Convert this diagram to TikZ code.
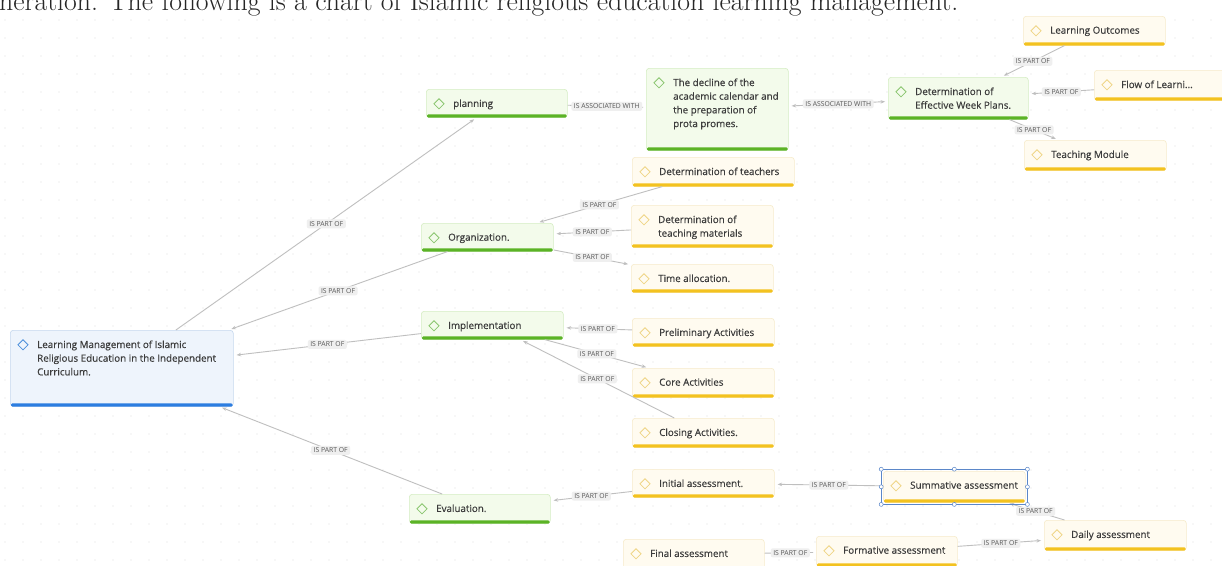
\documentclass[tikz,border=0pt]{standalone}
\usepackage{fontspec}
\setsansfont{Open Sans}
\newfontfamily\cardfont{Open Sans}[FakeBold=0.5]
\usepackage{tikz}
\usetikzlibrary{arrows.meta}
\usetikzlibrary{calc}
\usetikzlibrary{shapes.geometric,fit}

\definecolor{greenfill}{HTML}{F3FBEB}
\definecolor{greenline}{HTML}{D5EDC3}
\definecolor{greenbar}{HTML}{5BB326}
\definecolor{greenicon}{HTML}{8AC56F}
\definecolor{yellowfill}{HTML}{FFFBF0}
\definecolor{yellowline}{HTML}{F6EBCB}
\definecolor{yellowbar}{HTML}{F3C21F}
\definecolor{yellowicon}{HTML}{EFD585}
\definecolor{bluefill}{HTML}{EEF4FC}
\definecolor{blueline}{HTML}{C6D8EE}
\definecolor{bluebar}{HTML}{2C7DE0}
\definecolor{blueicon}{HTML}{4C8FDA}
\definecolor{inktext}{HTML}{3C3C3C}
\definecolor{linkgray}{HTML}{BFBFBF}
\definecolor{tagfill}{HTML}{EFEFEF}
\definecolor{tagtext}{HTML}{555555}
\definecolor{selblue}{HTML}{5B87C9}
\definecolor{griddot}{HTML}{E0E0E0}

\tikzset{
  card/.style={draw=#1line, fill=#1fill, rounded corners=3pt, line width=0.6pt,
    anchor=north west, inner sep=0pt},
  cardbar/.style={fill=#1bar, rounded corners=1.2pt},
  cardicon/.style={diamond, aspect=1, draw=#1icon, line width=0.8pt,
    minimum size=10.5pt, inner sep=0pt},
  cardtext/.style={anchor=north west, inner sep=0pt, align=left,
    font=\cardfont\fontsize{9.8}{13.7}\selectfont, text=inktext},
  link/.style={draw=linkgray, line width=0.9pt, shorten >=3pt},
  tag/.style={fill=tagfill, rounded corners=2pt, inner xsep=2.5pt, inner ysep=2pt,
    font=\sffamily\fontsize{6.8}{7}\selectfont, text=tagtext},
  selbox/.style={draw=selblue, line width=0.6pt, inner sep=1.5pt},
  selhandle/.style={draw=selblue, fill=white, line width=0.5pt}
}

\begin{document}
\begin{tikzpicture}[x=1pt,y=-1pt,>={Stealth[length=4.5pt,width=3.5pt]}]

  % Page and dotted canvas
  \useasboundingbox (0,0) rectangle (1222,565);
  \fill[white] (0,0) rectangle (1222,565);
  \foreach \gx in {5,23,...,1222}
    \foreach \gy in {20,38,...,565}
      \fill[griddot] (\gx,\gy) circle (0.7);

  % Line of the page above the chart, cut by the top edge
  \node[anchor=base west, inner sep=0pt, font=\fontsize{27.8}{28}\selectfont, text=black!85]
    (caption) at (-1,10) {neration. The following is a chart of Islamic religious education learning management.};

  % Cards: name/x/y/width/height/kind/text
  \foreach \nm/\x/\y/\w/\h/\kind/\txt in {
    root/10/330/223/76/blue/{Learning Management of Islamic\\Religious Education in the Independent\\Curriculum.},
    plan/426/89/141/28/green/{planning},
    decline/646/68/142/82/green/{The decline of the\\academic calendar and\\the preparation of\\prota promes.},
    week/888/77/140/42/green/{Determination of\\Effective Week Plans.},
    outcomes/1023/16/142/29/yellow/{Learning Outcomes},
    flow/1094/70/142/30/yellow/{Flow of Learni...},
    module/1024/140/142/30/yellow/{Teaching Module},
    teachers/632/157/162/29/yellow/{Determination of teachers},
    materials/631/205/142/42/yellow/{Determination of\\teaching materials},
    org/421/223/132/28/green/{Organization.},
    time/631/264/142/28/yellow/{Time allocation.},
    impl/421/311/142/28/green/{Implementation},
    prelim/632/318/142/28/yellow/{Preliminary Activities},
    core/632/368/142/29/yellow/{Core Activities},
    closing/632/418/142/29/yellow/{Closing Activities.},
    eval/409/494/141/29/green/{Evaluation.},
    initial/632/469/142/28/yellow/{Initial assessment.},
    summ/883/471/142/31/yellow/{Summative assessment},
    daily/1044/520/142/30/yellow/{Daily assessment},
    formative/816/536/141/30/yellow/{Formative assessment},
    final/623/539/141/30/yellow/{Final assessment}}
  {
    \node[card=\kind, minimum width=\w pt, minimum height=\h pt] (\nm) at (\x,\y) {};
    \fill[cardbar=\kind] ([shift={(1,-3.2)}]\nm.south west) rectangle ([shift={(-1,0)}]\nm.south east);
    \node[cardicon=\kind] (\nm-i) at ([shift={(13,14.8)}]\nm.north west) {};
    \node[cardtext] (\nm-t) at ([shift={(27,10.3)}]\nm.north west) {\txt};
  }

  % Main branches
  \draw[link,->] (root) -- node[tag]{IS PART OF} (plan);
  \draw[link,->] (org) -- node[tag]{IS PART OF} (root);
  \draw[link,->] (impl) -- node[tag]{IS PART OF} (root);
  \draw[link,->] (eval) -- node[tag]{IS PART OF} (root);

  % Planning
  \draw[link] (plan) -- node[tag]{IS ASSOCIATED WITH} (decline);
  \draw[link,shorten <=3pt,<->] (decline) -- node[tag]{IS ASSOCIATED WITH} (week);
  \draw[link,->] (outcomes) -- node[tag]{IS PART OF} (week);
  \draw[link,->] (flow) -- node[tag]{IS PART OF} (week);
  \draw[link,->] (week) -- node[tag]{IS PART OF} (module);

  % Organization
  \draw[link,->] (teachers) -- node[tag]{IS PART OF} (org);
  \draw[link,->] (materials) -- node[tag]{IS PART OF} (org);
  \draw[link,->] (org) -- node[tag]{IS PART OF} (time);

  % Implementation
  \draw[link,->] (prelim) -- node[tag]{IS PART OF} (impl);
  \draw[link,->] (impl) -- node[tag]{IS PART OF} (core);
  \draw[link,->] (closing) -- node[tag]{IS PART OF} (impl);

  % Evaluation
  \draw[link,->] (initial) -- node[tag]{IS PART OF} (eval);
  \draw[link,->] (summ) -- node[tag]{IS PART OF} (initial);
  \draw[link,->] (daily) -- node[tag]{IS PART OF} (summ);
  \draw[link,->] (formative) -- node[tag]{IS PART OF} (daily);
  \draw[link] (final) -- node[tag]{IS PART OF} (formative);

  % Selected card
  \node[selbox, fit=(summ)] (sel) {};
  \foreach \a in {north west,north,north east,east,south east,south,south west,west}
    \draw[selhandle] (sel.\a) circle (2);

\end{tikzpicture}
\end{document}
